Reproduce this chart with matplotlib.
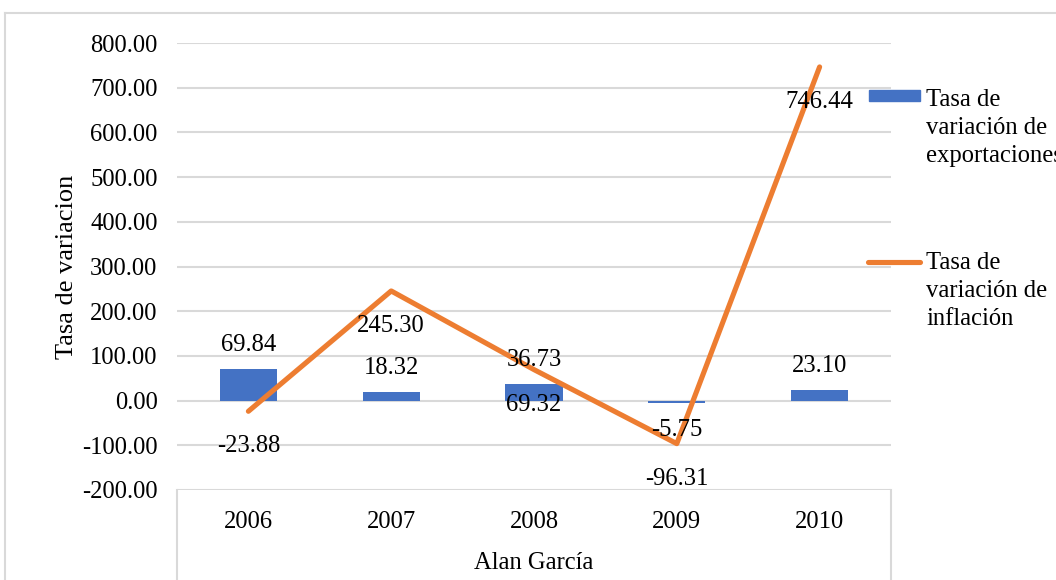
import matplotlib
matplotlib.use("Agg")
import matplotlib.pyplot as plt
import matplotlib.transforms as mtransforms
from matplotlib.lines import Line2D
from matplotlib.patches import Rectangle
import numpy as np

# data
years = ["2006", "2007", "2008", "2009", "2010"]
exportaciones = [69.84, 18.32, 36.73, -5.75, 23.10]
inflacion = [-23.88, 245.30, 69.32, -96.31, 746.44]
yticks = [-200, -100, 0, 100, 200, 300, 400, 500, 600, 700, 800]
group_label = "Alan García"
bar_name = "Tasa de\nvariación de\nexportaciones"
line_name = "Tasa de\nvariación de\ninflación"

BLUE = "#4472C4"
ORANGE = "#ED7D31"
GRID = "#D9D9D9"

plt.rcParams["font.family"] = ["Liberation Serif", "DejaVu Serif"]
plt.rcParams["font.size"] = 17.7

W, H = 1056, 580
fig = plt.figure(figsize=(W / 100, H / 100), dpi=100)
ax = fig.add_axes([177 / W, 1 - 490 / H, (891 - 177) / W, (490 - 43) / H])

x = np.arange(len(years))
ax.bar(x, exportaciones, width=0.4, color=BLUE, zorder=2)
ax.plot(x, inflacion, color=ORANGE, lw=3.7, solid_capstyle="round", zorder=3)

ax.set_xlim(-0.5, len(years) - 0.5)
ax.set_ylim(-200, 800)
ax.set_yticks(yticks)
ax.set_yticklabels(["%.2f" % v for v in yticks])
ax.tick_params(axis="y", length=0, pad=14)
ax.set_xticks(x)
ax.set_xticklabels(years)
ax.tick_params(axis="x", length=0, pad=15)
for s in ax.spines.values():
    s.set_visible(False)
ax.grid(axis="y", color=GRID, lw=1.5, zorder=0)
ax.set_axisbelow(True)

ax.set_ylabel("Tasa de variacion", fontsize=19, labelpad=3)

# value labels
for xi, v in zip(x, exportaciones):
    if v >= 0:
        ax.annotate("%.2f" % v, (xi, v), xytext=(0, 24), textcoords="offset pixels",
                    ha="center", va="center", zorder=4)
    else:
        ax.annotate("%.2f" % v, (xi, v), xytext=(0, -27), textcoords="offset pixels",
                    ha="center", va="center", zorder=4)
for xi, v in zip(x, inflacion):
    ax.annotate("%.2f" % v, (xi, v), xytext=(0, -35), textcoords="offset pixels",
                ha="center", va="center", zorder=4)

# multi-level category box below the plot
trans = mtransforms.blended_transform_factory(ax.transAxes, fig.transFigure)
for xa in (0, 1):
    ax.add_line(Line2D([xa, xa], [1 - 490 / H, 0], transform=trans, color=GRID,
                       lw=1.5, clip_on=False))
fig.text((177 + 891) / 2 / W, 1 - 563 / H, group_label, ha="center", va="center")

# outer chart border
fig.add_artist(Line2D([5 / W, 5 / W], [0, 1 - 13 / H], color=GRID, lw=1.5))
fig.add_artist(Line2D([5 / W, 1], [1 - 13 / H, 1 - 13 / H], color=GRID, lw=1.5))

# legend drawn at right
fig.add_artist(Rectangle((869 / W, 1 - 101 / H), 51 / W, 11 / H, color=BLUE))
fig.text(926 / W, 1 - 89 / H, bar_name, ha="left", va="top", linespacing=1.36)
fig.add_artist(Line2D([868 / W, 920 / W], [1 - 262 / H, 1 - 262 / H], color=ORANGE,
                      lw=3.7, solid_capstyle="round"))
fig.text(926 / W, 1 - 252 / H, line_name, ha="left", va="top", linespacing=1.36)

fig.savefig("out.png", dpi=100)
